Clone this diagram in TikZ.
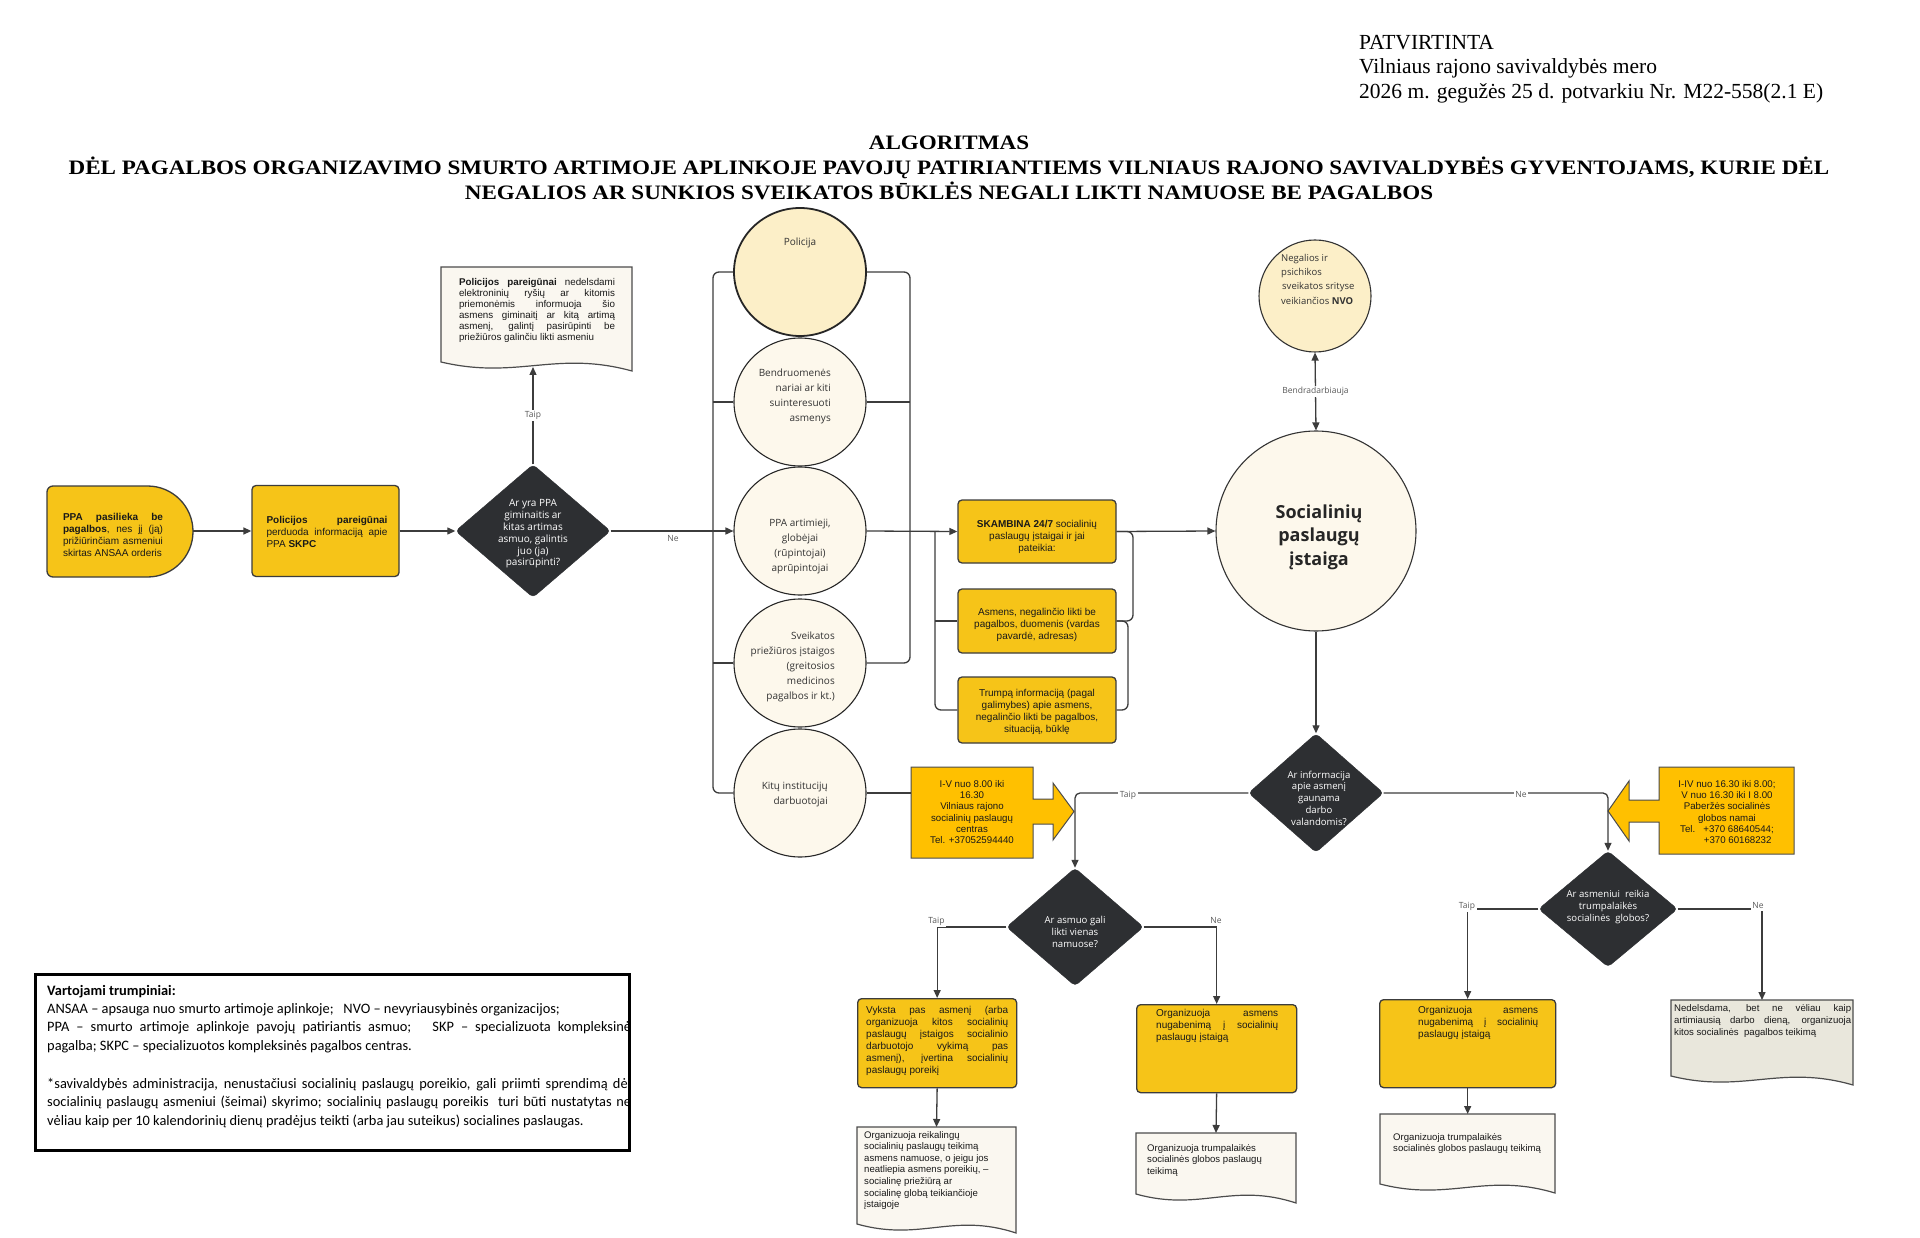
\documentclass[tikz,border=0pt]{standalone}
\usepackage{fontspec}
\setmainfont{Liberation Serif}
\newfontfamily\arialf{Liberation Sans}
\newfontfamily\osansf{Open Sans}
\newfontfamily\carlf{Carlito}
\usetikzlibrary{arrows.meta,shapes.geometric}
\definecolor{yel}{HTML}{F6C418}
\definecolor{yelarr}{HTML}{FFC000}
\definecolor{dk}{HTML}{2D2F32}
\definecolor{lc}{HTML}{3C3C3C}
\definecolor{cream}{HTML}{FDF8EC}
\definecolor{creamy}{HTML}{FCEFC8}
\definecolor{docf}{HTML}{FAF7F0}
\definecolor{docg}{HTML}{E9E7DC}
\newcommand\fs[2]{\fontsize{#1}{#2}\selectfont}
\newcommand\DocShape[5]{%
  \draw[docline, fill=#5] (#1,#2) -- (#3,#2) -- (#3,{#4+9})
    .. controls ({#1+0.6*(#3-#1)},{#4-12}) and ({#1+0.4*(#3-#1)},{#4+18}) .. (#1,#4) -- cycle;}
\begin{document}
\begin{tikzpicture}[x=1pt,y=-1pt,
  conn/.style={draw=lc, line width=1.3pt},
  arr/.style={conn, -{Triangle[length=8pt,width=7pt]}},
  ybox/.style={draw=lc, fill=yel, rounded corners=4pt, line width=1.3pt, inner sep=0},
  ell/.style={ellipse, draw=black!85, line width=1.1pt, fill=cream, minimum width=132, minimum height=128, inner sep=0},
  dia/.style={diamond, fill=dk, draw=dk, rounded corners=4pt, inner sep=0},
  dtxt/.style={text=white, font=\osansf\fs{9.6}{11.8}, align=center, inner sep=0},
  btxt/.style={font=\arialf\fs{10}{12}, align=center, inner sep=0, text=black!90},
  jtxt/.style={font=\arialf\fs{10}{12}, align=justify, inner sep=0, text=black!90},
  ltxt/.style={font=\arialf\fs{9.6}{11.6}, align=left, inner sep=0, text=black!90},
  etxt/.style={font=\osansf\fs{10}{15}, inner sep=0, text=black!80},
  lbl/.style={font=\osansf\fs{8.5}{10}, text=black!65, fill=white, inner sep=1.5pt},
  docline/.style={draw=black!70, line width=1.2pt},
  inv/.style={inner sep=0, outer sep=0},
  hdr/.style={font=\fs{21.5}{24}, inner sep=0, anchor=base west},
  ttl/.style={font=\bfseries\fs{20.5}{24}, inner sep=0, anchor=base, xscale=1.125},
]
\useasboundingbox (0,0) rectangle (1920,1238);
\fill[white] (0,0) rectangle (1920,1238);

% header
\node[hdr] (h1) at (1359,50) {PATVIRTINTA};
\node[hdr] (h2) at (1359,74) {Vilniaus rajono savivaldybės mero};
\node[hdr] (h3) at (1359,99) {2026 m. gegužės 25 d. potvarkiu Nr. M22-558(2.1 E)};

% title
\node[ttl] (t1) at (949,150) {ALGORITMAS};
\node[ttl] (t2) at (949,175) {DĖL PAGALBOS ORGANIZAVIMO SMURTO ARTIMOJE APLINKOJE PAVOJŲ PATIRIANTIEMS VILNIAUS RAJONO SAVIVALDYBĖS GYVENTOJAMS, KURIE DĖL};
\node[ttl] (t3) at (949,200) {NEGALIOS AR SUNKIOS SVEIKATOS BŪKLĖS NEGALI LIKTI NAMUOSE BE PAGALBOS};

% start D-shape
\draw[draw=lc, fill=yel, line width=1.3pt] (147.5,486) -- (53,486) arc[start angle=-90, end angle=-180, radius=6] -- (47,571) arc[start angle=180, end angle=90, radius=6] -- (147.5,577) arc[start angle=90, end angle=-90, radius=45.5] -- cycle;
\node[inv, minimum width=146, minimum height=91] (start) at (120,531) {};
\node[jtxt, text width=100] (starttxt) at (113,535) {\textbf{PPA pasilieka be\linebreak pagalbos}, nes jį (ją)\linebreak prižiūrinčiam asmeniui\linebreak skirtas ANSAA orderis};

% police box
\node[ybox, minimum width=147, minimum height=91] (pbox) at (325.5,531) {};
\node[jtxt, text width=121] (pboxtxt) at (327,532) {\textbf{Policijos pareigūnai}\linebreak perduoda informaciją apie\linebreak PPA \textbf{SKPC}};

% diamond 1
\node[dia, minimum width=155, minimum height=133] (d1) at (533,531) {};
\node[dtxt, font=\osansf\fs{10}{11.8}] (d1txt) at (533,534) {Ar yra PPA\\giminaitis ar\\kitas artimas\\asmuo, galintis\\juo (ja)\\pasirūpinti?};

% police document
\DocShape{441}{267}{632}{362}{docf}
\node[inv, minimum width=191, minimum height=100, anchor=north west] (poldoc) at (441,267) {};
\node[jtxt, text width=156, font=\arialf\fs{9.8}{11}] (poldoctxt) at (537,310) {\textbf{Policijos pareigūnai} nedelsdami\linebreak elektroninių ryšių ar kitomis\linebreak priemonėmis informuoja šio\linebreak asmens giminaitį ar kitą artimą\linebreak asmenį, galintį pasirūpinti be\linebreak priežiūros galinčiu likti asmeniu};
\coordinate (poldocb) at (533,367);

% ellipses
\node[ell, fill=creamy, line width=1.8pt] (pol) at (800,272) {};
\node[ell] (ben) at (800,402) {};
\node[ell] (ppa) at (800,531) {};
\node[ell] (sve) at (800,663) {};
\node[ell] (kit) at (800,793) {};
\node[etxt] (poltxt) at (800,243) {Policija};
\node[etxt, align=right, anchor=east] (bentxt) at (831,396) {Bendruomenės\\nariai ar kiti\\suinteresuoti\\asmenys};
\node[etxt, align=center] (ppatxt) at (800,547) {PPA artimieji,\\globėjai\\(rūpintojai)\\aprūpintojai};
\node[etxt, align=right, anchor=east] (svetxt) at (835,667) {Sveikatos\\priežiūros įstaigos\\(greitosios\\medicinos\\pagalbos ir kt.)};
\node[etxt, align=right, anchor=east] (kittxt) at (828,795) {Kitų institucijų\\darbuotojai};

% SKAMBINA boxes
\node[ybox, minimum width=158, minimum height=63] (skb) at (1037,531.5) {};
\node[btxt] (skbtxt) at (1037,537) {\textbf{SKAMBINA 24/7} socialinių\\paslaugų įstaigai ir jai\\pateikia:};
\node[ybox, minimum width=158, minimum height=64] (asm) at (1037,621) {};
\node[btxt] (asmtxt) at (1037,625) {Asmens, negalinčio likti be\\pagalbos, duomenis (vardas\\pavardė, adresas)};
\node[ybox, minimum width=158, minimum height=66] (trm) at (1037,710) {};
\node[btxt] (trmtxt) at (1037,712) {Trumpą informaciją (pagal\\galimybes) apie asmens,\\negalinčio likti be pagalbos,\\situaciją, būklę};

% Socialiniu paslaugu istaiga + NVO
\node[circle, draw=black!80, line width=1.1pt, fill=cream, minimum size=200, inner sep=0] (soc) at (1316,531) {};
\node[font=\osansf\bfseries\fs{18}{23.5}, align=center, inner sep=0, text=black!85] (soctxt) at (1319,537) {Socialinių\\paslaugų\\įstaiga};
\node[circle, draw=black!80, line width=1.1pt, fill=creamy, minimum size=112, inner sep=0] (nvo) at (1315,296) {};
\node[etxt, font=\osansf\fs{9.5}{14.3}, align=left, anchor=west] (nvotxt) at (1281,279) {Negalios ir\\psichikos\\\hspace*{1pt}sveikatos srityse\\veikiančios \textbf{NVO}};

% diamond 2
\node[dia, minimum width=135, minimum height=119] (d2) at (1316,793) {};
\node[dtxt] (d2txt) at (1319,798) {Ar informacija\\apie asmenį\\gaunama\\darbo\\valandomis?};

% arrow boxes
\draw[draw=black!70, fill=yelarr, line width=1pt] (911,767) -- (1033,767) -- (1033,799) -- (1053,799) -- (1053,783) -- (1074,811.5) -- (1053,840) -- (1053,824) -- (1033,824) -- (1033,858) -- (911,858) -- cycle;
\node[inv, minimum width=122, minimum height=91] (iv) at (972,812.5) {};
\node[btxt, font=\arialf\fs{9.7}{11.2}] (ivtxt) at (972,812) {I-V nuo 8.00 iki\\16.30\\Vilniaus rajono\\socialinių paslaugų\\centras\\Tel. +37052594440};
\draw[draw=black!70, fill=yelarr, line width=1pt] (1794,767) -- (1659,767) -- (1659,800) -- (1629,800) -- (1629,781) -- (1608,811) -- (1629,841) -- (1629,822) -- (1659,822) -- (1659,854) -- (1794,854) -- cycle;
\node[inv, minimum width=135, minimum height=87] (ivr) at (1726.5,810.5) {};
\node[btxt, font=\arialf\fs{9.7}{11.2}] (ivrtxt) at (1727,812) {I-IV nuo 16.30 iki 8.00;\\V nuo 16.30 iki I 8.00\\Paberžės socialinės\\globos namai\\Tel.\ \ \ +370 68640544;\\\hspace*{2.2em}+370 60168232};

% diamonds 3 and 4
\node[dia, minimum width=137, minimum height=118] (d3) at (1075,927) {};
\node[dtxt] (d3txt) at (1075,932) {Ar asmuo gali\\likti vienas\\namuose?};
\node[dia, minimum width=139, minimum height=116] (d4) at (1608,909) {};
\node[dtxt] (d4txt) at (1608,907) {Ar asmeniui\ \ reikia\\trumpalaikės\\socialinės\ \ globos?};

% bottom boxes
\node[ybox, minimum width=159, minimum height=89, anchor=north west] (b1) at (857,998) {};
\node[jtxt, text width=142, anchor=north west] (b1txt) at (866,1006) {Vyksta pas asmenį (arba\linebreak organizuoja kitos socialinių\linebreak paslaugų įstaigos socialinio\linebreak darbuotojo vykimą pas\linebreak asmenį), įvertina socialinių\linebreak paslaugų poreikį};
\node[ybox, minimum width=160, minimum height=88, anchor=north west] (b2) at (1136,1004) {};
\node[jtxt, text width=122, anchor=north west] (b2txt) at (1156,1009) {Organizuoja asmens\linebreak nugabenimą į socialinių\linebreak paslaugų įstaigą};
\node[ybox, minimum width=176, minimum height=88, anchor=north west] (b3) at (1379,999) {};
\node[jtxt, text width=120, anchor=north west] (b3txt) at (1418,1006) {Organizuoja asmens\linebreak nugabenimą į socialinių\linebreak paslaugų įstaigą};

% bottom documents
\DocShape{857}{1127}{1016}{1224}{docf}
\node[inv, minimum width=159, minimum height=100, anchor=north west] (doc1) at (857,1127) {};
\node[ltxt, anchor=north west] (doc1txt) at (864,1131) {Organizuoja reikalingų\\socialinių paslaugų teikimą\\asmens namuose, o jeigu jos\\neatliepia asmens poreikių, –\\socialinę priežiūrą ar\\socialinę globą teikiančioje\\įstaigoje};
\DocShape{1136}{1133}{1296}{1194}{docf}
\node[inv, minimum width=160, minimum height=64, anchor=north west] (doc2) at (1136,1133) {};
\node[ltxt, anchor=north west] (doc2txt) at (1147,1144) {Organizuoja trumpalaikės\\socialinės globos paslaugų\\teikimą};
\DocShape{1380}{1114}{1555}{1184}{docf}
\node[inv, minimum width=175, minimum height=72, anchor=north west] (doc3) at (1380,1114) {};
\node[ltxt, anchor=north west] (doc3txt) at (1393,1133) {Organizuoja trumpalaikės\\socialinės globos paslaugų teikimą};
\DocShape{1671}{1000}{1853}{1076}{docg}
\node[inv, minimum width=182, minimum height=78, anchor=north west] (gdoc) at (1671,1000) {};
\node[jtxt, font=\arialf\fs{9.6}{12}, text width=177, anchor=north west] (gdoctxt) at (1674,1004) {Nedelsdama, bet ne vėliau kaip\linebreak artimiausią darbo dieną, organizuoja\linebreak kitos socialinės\ \ pagalbos teikimą};

% legend
\node[draw=black, line width=2.6pt, minimum width=594, minimum height=176, anchor=north west, inner sep=0] (legbox) at (34,973) {};
\node[anchor=north west, text width=584, align=justify, font=\carlf\fs{14.4}{18.3}, inner sep=0] (legtxt) at (47,985) {\textbf{Vartojami trumpiniai:}\\ANSAA – apsauga nuo smurto artimoje aplinkoje;\ \ \ NVO – nevyriausybinės organizacijos;\\PPA – smurto artimoje aplinkoje pavojų patiriantis asmuo;\ \ \ SKP – specializuota kompleksinė\linebreak pagalba; SKPC – specializuotos kompleksinės pagalbos centras.\\[20pt]\fs{14.4}{17.5}*savivaldybės administracija, nenustačiusi socialinių paslaugų poreikio, gali priimti sprendimą dėl\linebreak socialinių paslaugų asmeniui (šeimai) skyrimo; socialinių paslaugų poreikis\ \ turi būti nustatytas ne\linebreak vėliau kaip per 10 kalendorinių dienų pradėjus teikti (arba jau suteikus) socialines paslaugas.};

% ---------- connectors ----------
\draw[arr] (start.east) -- (pbox.west);
\draw[arr] (pbox.east) -- (d1.west);
\draw[arr] (d1.north) -- node[lbl] (taip1) {Taip} (poldocb);
\draw[arr, line width=1.6pt] (d1.east) -- (ppa.west);
\node[lbl] (ne1) at (673,539) {Ne};

% left bracket of ellipses
\draw[conn, rounded corners=6pt] (pol.west) -- (713,272) -- (713,793) -- (kit.west);
\draw[conn] (ben.west) -- (713,402);
\draw[conn] (sve.west) -- (713,663);
% right bracket of ellipses
\draw[conn, rounded corners=6pt] (pol.east) -- (910,272) -- (910,663) -- (sve.east);
\draw[conn] (ben.east) -- (910,402);
\draw[arr] (ppa.east) -- (skb.west);
\draw[conn] (kit.east) -- (kit.east -| iv.west);
% bracket of SKAMBINA sub-boxes
\draw[conn, rounded corners=6pt] (935,531) -- (935,710) -- (trm.west);
\draw[conn] (935,621) -- (asm.west);
\draw[conn, rounded corners=6pt] (skb.east) -- (1133,531.5) -- (1133,621) -- (asm.east);
\draw[conn, rounded corners=6pt] (asm.east) -- (1128,621) -- (1128,710) -- (trm.east);

\draw[arr] (skb.east) -- (soc.west);
\draw[conn, {Triangle[length=8pt,width=7pt]}-{Triangle[length=8pt,width=7pt]}] (soc.north) -- node[lbl] (bendr) {Bendradarbiauja} (nvo.south);
\draw[arr] (soc.south) -- (d2.north);

\draw[arr, rounded corners=5pt] (d2.west) -| (d3.north);
\node[lbl] (taip2) at (1128,795) {Taip};
\draw[arr, rounded corners=5pt] (d2.east) -| (d4.north);
\node[lbl] (ne2) at (1521,795) {Ne};

\draw[arr] (d3.west) -| (b1.north);
\node[lbl] (taip3) at (936.5,921) {Taip};
\draw[arr] (d3.east) -| (b2.north);
\node[lbl] (ne3) at (1216,921) {Ne};
\draw[arr] (d4.west) -| (b3.north);
\node[lbl] (taip4) at (1467,906) {Taip};
\draw[arr] (d4.east) -| (gdoc.north);
\node[lbl] (ne4) at (1758,906) {Ne};

\draw[arr] (b1.south) -- (doc1.north);
\draw[arr] (b2.south) -- (doc2.north);
\draw[arr] (b3.south) -- (b3.south |- doc3.north);
\end{tikzpicture}
\end{document}
